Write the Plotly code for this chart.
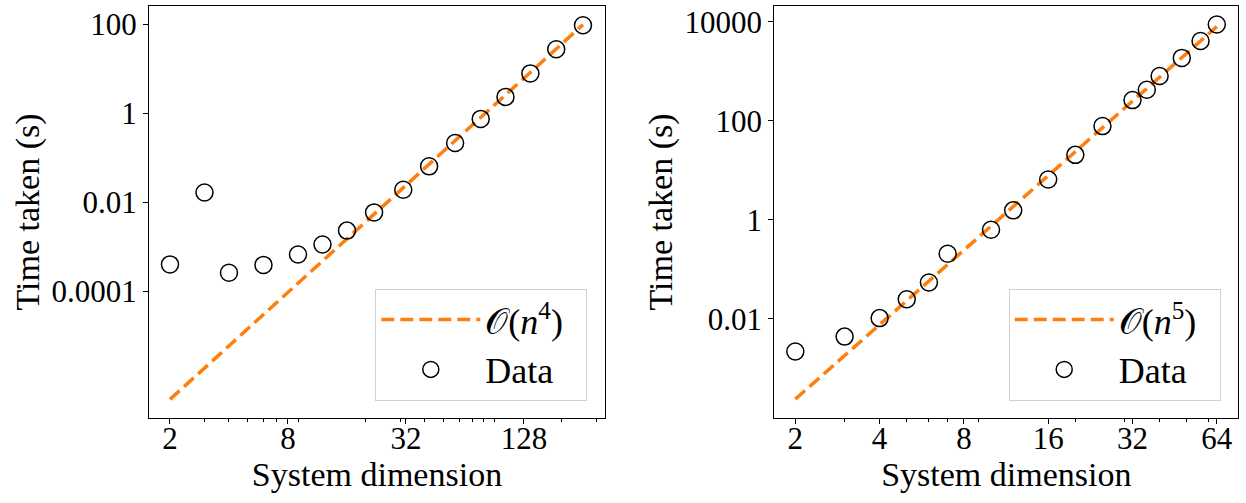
import plotly.graph_objects as go

# ---------------- data ----------------
# Left panel: O(n^4)
left_n = [2, 3, 4, 6, 9, 12, 16, 22, 31, 42, 57, 77, 103, 138, 187, 256]
left_time = [4.0e-4, 1.65e-2, 2.6e-4, 3.9e-4, 6.7e-4, 1.12e-3, 2.3e-3, 5.9e-3,
             1.9e-2, 6.4e-2, 2.14e-1, 7.45e-1, 2.33, 7.85, 27.3, 94.8]
left_fit_n = [2, 256]
left_fit_time = [3.7e-7, 98.0]
left_fit_label = "𝒪(<i>n</i><sup>4</sup>)&nbsp;&nbsp;"

# Right panel: O(n^5)
right_n = [2, 3, 4, 5, 6, 7, 10, 12, 16, 20, 25, 32, 36, 40, 48, 56, 64]
right_time = [2.2e-3, 4.4e-3, 1.04e-2, 2.5e-2, 5.46e-2, 2.07e-1, 6.35e-1, 1.56,
              6.53, 20.6, 78.5, 263, 427, 807, 1870, 4120, 8830]
right_fit_n = [2, 64]
right_fit_time = [2.4e-4, 8.0e3]
right_fit_label = "𝒪(<i>n</i><sup>5</sup>)&nbsp;&nbsp;"

data_label = "Data"

left_xticks = [2, 8, 32, 128]
left_xminor = [3, 4, 5, 6, 7, 9, 20, 30, 40, 50, 60, 70, 80, 90, 200, 300]
left_yticks = [1e-4, 1e-2, 1, 100]
left_ytext = ["0.0001", "0.01", "1", "100"]

right_xticks = [2, 4, 8, 16, 32, 64]
right_xminor = [3, 5, 6, 7, 9, 20, 30, 40, 50, 60]
right_yticks = [1e-2, 1, 100, 1e4]
right_ytext = ["0.01", "1", "100", "10000"]

x_title = "System dimension"
y_title = "Time taken (s)"

# ---------------- style ----------------
FONT = "Liberation Serif"
TFS = 31   # tick labels
AFS = 34   # axis titles
LFS = 36   # legend
ORANGE = "#ff7f0e"

fig = go.Figure()

def add_panel(xa, ya, legend, fit_n, fit_t, fit_label, n, t):
    fig.add_trace(go.Scatter(
        x=fit_n, y=fit_t, mode="lines", name=fit_label,
        line=dict(color=ORANGE, width=3.5, dash="13px,6px"),
        xaxis=xa, yaxis=ya, legend=legend, legendgroup=legend + "a",
    ))
    fig.add_trace(go.Scatter(
        x=n, y=t, mode="markers", name=data_label,
        marker=dict(symbol="circle-open", size=17, color="black",
                    line=dict(width=1.5, color="black")),
        xaxis=xa, yaxis=ya, legend=legend, legendgroup=legend + "b",
    ))

add_panel("x", "y", "legend", left_fit_n, left_fit_time, left_fit_label,
          left_n, left_time)
add_panel("x2", "y2", "legend2", right_fit_n, right_fit_time, right_fit_label,
          right_n, right_time)

ydom = [85 / 503, 497 / 503]

def xaxis(domain, rng, ticks, minor, anchor):
    return dict(
        type="log", domain=domain, range=rng, anchor=anchor, automargin=False,
        tickmode="array", tickvals=ticks, ticktext=[str(v) for v in ticks],
        ticks="outside", ticklen=5, tickwidth=1, tickcolor="black",
        ticklabelstandoff=-12,
        minor=dict(tickmode="array", tickvals=minor, ticks="outside",
                   ticklen=3, tickwidth=0.8, tickcolor="black", showgrid=False),
        showline=True, linecolor="black", linewidth=1.2, mirror=True,
        showgrid=False, zeroline=False,
        tickfont=dict(family=FONT, size=TFS, color="black"),
        title=dict(text=x_title, font=dict(family=FONT, size=AFS, color="black"),
                   standoff=3),
    )

def yaxis(anchor, rng, ticks, text):
    return dict(
        type="log", domain=ydom, range=rng, anchor=anchor, automargin=False,
        tickmode="array", tickvals=ticks, ticktext=text,
        ticks="outside", ticklen=5, tickwidth=1, tickcolor="black",
        showline=True, linecolor="black", linewidth=1.2, mirror=True,
        showgrid=False, zeroline=False,
        tickfont=dict(family=FONT, size=TFS, color="black"),
        title=dict(text=y_title, font=dict(family=FONT, size=AFS, color="black"),
                   standoff=1),
    )

legend_common = dict(
    bgcolor="white", bordercolor="#d0d0d0", borderwidth=1,
    font=dict(family=FONT, size=LFS, color="black"),
    xanchor="right", yanchor="bottom", itemwidth=99,
    tracegroupgap=14, traceorder="normal",
)

fig.update_layout(
    width=1246, height=503, autosize=False,
    margin=dict(l=0, r=0, t=0, b=0, autoexpand=False),
    paper_bgcolor="white", plot_bgcolor="white",
    xaxis=xaxis([149 / 1246, 605 / 1246], [0.194, 2.5206], left_xticks,
                left_xminor, "y"),
    yaxis=yaxis("x", [-6.85, 2.41], left_yticks, left_ytext),
    xaxis2=xaxis([774.3 / 1246, 1238.3 / 1246], [0.226, 1.883], right_xticks,
                 right_xminor, "y2"),
    yaxis2=yaxis("x2", [-4.0, 4.32], right_yticks, right_ytext),
    legend=dict(legend_common, x=587.3 / 1246, y=(503 - 400.7) / 503),
    legend2=dict(legend_common, x=1220.7 / 1246, y=(503 - 400.7) / 503),
    showlegend=True,
)

fig.write_html("out.html",
               config={"displayModeBar": False},
               post_script="document.body.style.margin='0px';")
